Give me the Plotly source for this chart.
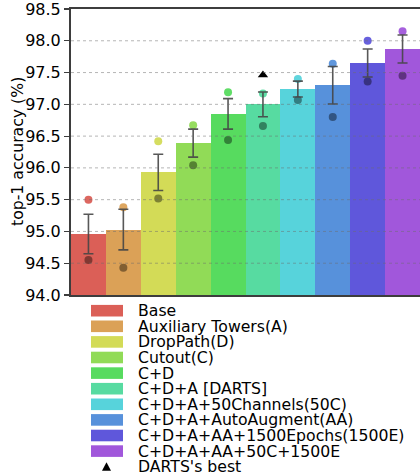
import plotly.graph_objects as go

categories = ["Base", "Auxiliary Towers(A)", "DropPath(D)", "Cutout(C)", "C+D",
              "C+D+A [DARTS]", "C+D+A+50Channels(50C)", "C+D+A+AutoAugment(AA)",
              "C+D+A+AA+1500Epochs(1500E)", "C+D+A+AA+50C+1500E"]
mean_acc = [94.96, 95.03, 95.93, 96.39, 96.85, 97.00, 97.24, 97.30, 97.65, 97.87]
std_acc = [0.31, 0.32, 0.285, 0.22, 0.24, 0.195, 0.125, 0.295, 0.22, 0.22]
best_acc = [95.50, 95.38, 96.42, 96.67, 97.19, 97.17, 97.40, 97.64, 98.00, 98.15]
worst_acc = [94.55, 94.43, 95.52, 96.04, 96.44, 96.66, 97.07, 96.80, 97.36, 97.45]
darts_best_idx = [5]
darts_best_val = [97.46]
colors = [(219, 95, 87), (219, 161, 87), (211, 219, 87), (145, 219, 87), (87, 219, 95),
          (87, 219, 161), (87, 211, 219), (87, 145, 219), (95, 87, 219), (161, 87, 219)]
y_ticks = [94.0, 94.5, 95.0, 95.5, 96.0, 96.5, 97.0, 97.5, 98.0, 98.5]

FONT = "DejaVu Sans"
W, H = 420, 473
L, T, B, R = 71, 9, 178, 0
plot_w = W - L - R
plot_h = H - T - B

def rgb(c, f=1.0, a=1.0):
    return "rgba(%d,%d,%d,%.2f)" % (int(c[0] * f), int(c[1] * f), int(c[2] * f), a)

x = list(range(len(categories)))
fig = go.Figure()
fig.add_trace(go.Bar(x=x, y=[m - 94.0 for m in mean_acc], base=94.0, width=1.0,
                     marker=dict(color=[rgb(c) for c in colors], line=dict(width=0)),
                     showlegend=False, hoverinfo="skip"))
fig.add_trace(go.Scatter(x=x, y=best_acc, mode="markers",
                         marker=dict(size=8, color=[rgb(c, 1.0, 0.95) for c in colors]),
                         showlegend=False, hoverinfo="skip"))
fig.add_trace(go.Scatter(x=x, y=worst_acc, mode="markers",
                         marker=dict(size=8, color=[rgb(c, 0.55, 0.9) for c in colors]),
                         showlegend=False, hoverinfo="skip"))
fig.add_trace(go.Scatter(x=x, y=mean_acc, mode="markers",
                         marker=dict(size=0.1, color="rgba(0,0,0,0)"),
                         error_y=dict(type="data", array=std_acc, visible=True,
                                      color="rgba(70,70,70,0.9)", thickness=1.6, width=5),
                         showlegend=False, hoverinfo="skip"))
fig.add_trace(go.Scatter(x=darts_best_idx, y=darts_best_val, mode="markers",
                         marker=dict(symbol="triangle-up", size=9, color="black"),
                         showlegend=False, hoverinfo="skip"))

shapes = []
for v in y_ticks[1:-1]:
    shapes.append(dict(type="line", xref="paper", yref="y", x0=0, x1=1, y0=v, y1=v,
                       line=dict(color="rgba(110,110,110,0.5)", width=1, dash="dot"),
                       layer="above"))

annotations = []
row0 = 310.7
step = 15.6
for i, name in enumerate(categories):
    yc = row0 + i * step
    y0p = (H - B - (yc - 5.8)) / plot_h
    y1p = (H - B - (yc + 5.8)) / plot_h
    shapes.append(dict(type="rect", xref="paper", yref="paper",
                       x0=(91 - L) / plot_w, x1=(123 - L) / plot_w, y0=y1p, y1=y0p,
                       fillcolor=rgb(colors[i]), line=dict(width=0), layer="above"))
    annotations.append(dict(text=name, xref="paper", yref="paper",
                            x=(136 - L) / plot_w, y=(H - B - yc) / plot_h,
                            xanchor="left", yanchor="middle", showarrow=False,
                            font=dict(family=FONT, size=15.7, color="black")))
# legend entry for DARTS's best
yc = row0 + len(categories) * step
cx = 106.5
tri = [(cx - 4.5, yc + 4), (cx + 4.5, yc + 4), (cx, yc - 4.5)]
def px2paper(p):
    return ((p[0] - L) / plot_w, (H - B - p[1]) / plot_h)
pts = [px2paper(p) for p in tri]
path = "M %f,%f L %f,%f L %f,%f Z" % (pts[0][0], pts[0][1], pts[1][0], pts[1][1], pts[2][0], pts[2][1])
shapes.append(dict(type="path", xref="paper", yref="paper", path=path,
                   fillcolor="black", line=dict(width=0), layer="above"))
annotations.append(dict(text="DARTS's best", xref="paper", yref="paper",
                        x=(136 - L) / plot_w, y=(H - B - yc) / plot_h,
                        xanchor="left", yanchor="middle", showarrow=False,
                        font=dict(family=FONT, size=15.7, color="black")))
# y-axis title
annotations.append(dict(text="top-1 accuracy (%)", xref="paper", yref="paper",
                        x=(17 - L) / plot_w, y=0.5, xanchor="center", yanchor="middle",
                        textangle=-90, showarrow=False,
                        font=dict(family=FONT, size=15.7, color="black")))

fig.update_layout(
    width=W, height=H,
    margin=dict(l=L, r=R, t=T, b=B),
    plot_bgcolor="white", paper_bgcolor="white",
    font=dict(family=FONT, size=15.7, color="black"),
    bargap=0,
    shapes=shapes, annotations=annotations,
    xaxis=dict(range=[-0.5, 9.5], showticklabels=False, ticks="", showgrid=False,
               zeroline=False, showline=True, mirror=True, linecolor="rgba(40,40,40,0.9)",
               linewidth=2, layer="above traces", fixedrange=True),
    yaxis=dict(range=[94.0, 98.5], tickvals=y_ticks, ticktext=["%.1f" % v for v in y_ticks],
               ticks="outside", ticklen=5, tickwidth=1.2, tickcolor="rgba(40,40,40,0.9)",
               showgrid=False, zeroline=False, showline=True, linecolor="rgba(40,40,40,0.9)",
               linewidth=2, layer="above traces", ticklabeloverflow="allow",
               tickfont=dict(family=FONT, size=16, color="black"), fixedrange=True),
)
fig.write_html("out.html", config={"displayModeBar": False, "staticPlot": True},
               post_script="document.body.style.margin='0';document.body.style.overflow='hidden';")
